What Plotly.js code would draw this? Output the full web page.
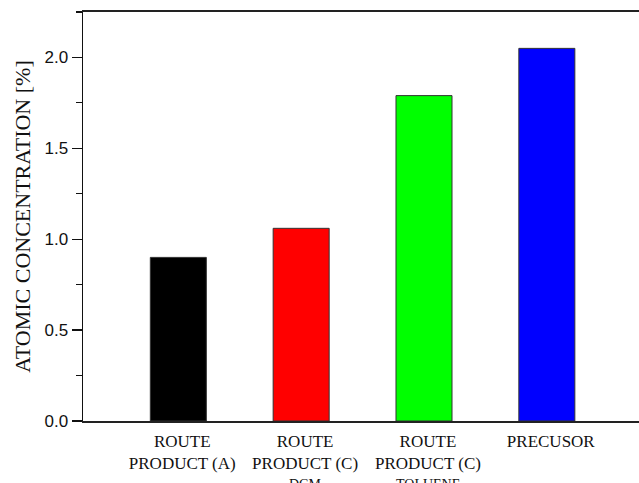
<!DOCTYPE html>
<html>
<head>
<meta charset="utf-8">
<script src="https://cdn.plot.ly/plotly-3.0.1.min.js"></script>
<style>
  html, body { margin: 0; padding: 0; overflow: hidden; background: #fff; }
  #chart { width: 800px; height: 483px; }
</style>
</head>
<body>
<div id="chart"></div>
<script>
// Atomic concentration per sample
const categoryIndex = [0, 1, 2, 3];
const labelLines = [
  'ROUTE<br>PRODUCT (A)',
  'ROUTE<br>PRODUCT (C)',
  'ROUTE<br>PRODUCT (C)',
  'PRECUSOR'
];
const subLabels = ['', 'DCM', 'TOLUENE', ''];
const concentration = [0.90, 1.06, 1.79, 2.05];
const barColors = ['#000000', '#ff0000', '#00ff00', '#0000ff'];
const yTicks = [0, 0.5, 1.0, 1.5, 2.0];

// category labels sit a touch right of the bar centres
const labelNudge = 0.032;
const labelPositions = categoryIndex.map(i => i + labelNudge);

const trace = {
  type: 'bar',
  x: categoryIndex,
  y: concentration,
  width: 0.456,
  marker: { color: barColors, line: { color: '#333333', width: 1 } },
  hoverinfo: 'skip'
};

const subAnnotations = categoryIndex
  .filter(i => subLabels[i])
  .map(i => ({
    x: labelPositions[i], y: 0, xref: 'x', yref: 'y',
    text: subLabels[i],
    showarrow: false,
    yanchor: 'top',
    yshift: -54,
    font: { family: 'Liberation Serif, Times New Roman, serif', size: 14, color: '#111' }
  }));

const layout = {
  width: 800,
  height: 483,
  margin: { l: 83, r: 35, t: 12, b: 62 },
  paper_bgcolor: '#ffffff',
  plot_bgcolor: '#ffffff',
  showlegend: false,
  bargap: 0,
  xaxis: {
    range: [-0.776, 4.776],
    tickvals: labelPositions,
    ticktext: labelLines,
    ticks: '',
    ticklabelstandoff: 4,
    showgrid: false,
    zeroline: false,
    showline: true,
    linecolor: '#222',
    linewidth: 1.8,
    mirror: true,
    tickfont: { family: 'Liberation Serif, Times New Roman, serif', size: 17, color: '#111' }
  },
  yaxis: {
    range: [0, 2.25],
    tickvals: yTicks,
    tickformat: '.1f',
    ticks: 'outside',
    ticklen: 10,
    tickwidth: 1.3,
    tickcolor: '#111',
    minor: { dtick: 0.25, ticks: 'outside', ticklen: 6, tickwidth: 1.2, tickcolor: '#111', showgrid: false },
    showgrid: false,
    zeroline: false,
    showline: true,
    linecolor: '#111',
    linewidth: 1.5,
    mirror: true,
    tickfont: { family: 'Liberation Sans, Arial, sans-serif', size: 17, color: '#111' },
    title: {
      text: 'ATOMIC CONCENTRATION [%]',
      standoff: 8,
      font: { family: 'Liberation Serif, Times New Roman, serif', size: 22, color: '#111' }
    }
  },
  annotations: subAnnotations
};

Plotly.newPlot('chart', [trace], layout, { staticPlot: true, displayModeBar: false });
</script>
</body>
</html>
